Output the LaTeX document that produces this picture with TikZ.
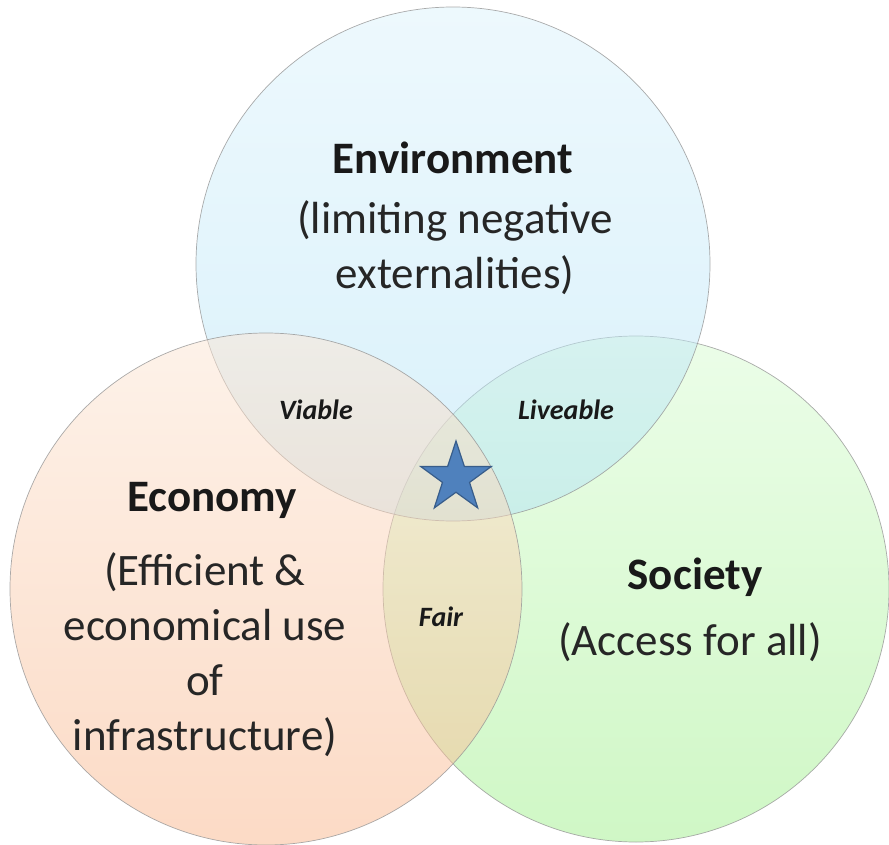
\documentclass[tikz,border=0pt]{standalone}
\usepackage{fontspec}
\setmainfont{Carlito}
\usetikzlibrary{shapes.geometric}

\definecolor{envtop}{RGB}{220,243,252}
\definecolor{envbot}{RGB}{178,226,246}
\definecolor{ecotop}{RGB}{252,230,212}
\definecolor{ecobot}{RGB}{249,182,140}
\definecolor{soctop}{RGB}{216,252,210}
\definecolor{socbot}{RGB}{160,240,140}
\definecolor{rimgrey}{RGB}{150,150,150}
\definecolor{starblue}{RGB}{79,129,189}
\definecolor{stardark}{RGB}{56,93,138}

\begin{document}
\begin{tikzpicture}[x=1pt,y=-1pt,
    venn/.style={circle, draw=rimgrey, line width=0.7pt, inner sep=0pt,
      fill opacity=0.5, draw opacity=0.8},
    head/.style={font=\fontsize{45}{54}\selectfont\bfseries, text=black!90},
    body/.style={font=\fontsize{45}{55}\selectfont, align=center, text=black!85},
    meet/.style={font=\fontsize{28}{32}\selectfont\bfseries\itshape, text=black!90}]
  \useasboundingbox (0,0) rectangle (889,845);
  % the three sets
  \node[venn, minimum size=506pt, top color=soctop, bottom color=socbot] (soc) at (636,589) {};
  \node[venn, minimum size=514pt, top color=envtop, bottom color=envbot] (env) at (453,264) {};
  \node[venn, minimum size=512pt, top color=ecotop, bottom color=ecobot] (eco) at (266,589) {};
  % titles and descriptions
  \node[head] (envhead) at (453,158) {Environment};
  \node[body] (envtext) at (455,248) {(limiting negative\\externalities)};
  \node[head] (ecohead) at (212,500) {Economy};
  \node[body] (ecotext) at (205,655) {(Efficient \&\\economical use\\of\\infrastructure)};
  \node[head] (sochead) at (695,577) {Society};
  \node[body] (soctext) at (690,642) {(Access for all)};
  % overlaps
  \node[meet] (viable) at (316,410) {Viable};
  \node[meet] (liveable) at (566,410) {Liveable};
  \node[meet] (fair) at (441,617) {Fair};
  \node[star, star points=5, star point ratio=2.6, minimum size=74pt, inner sep=0pt,
    fill=starblue, draw=stardark, line width=1.2pt] (core) at (456,478) {};
\end{tikzpicture}
\end{document}
